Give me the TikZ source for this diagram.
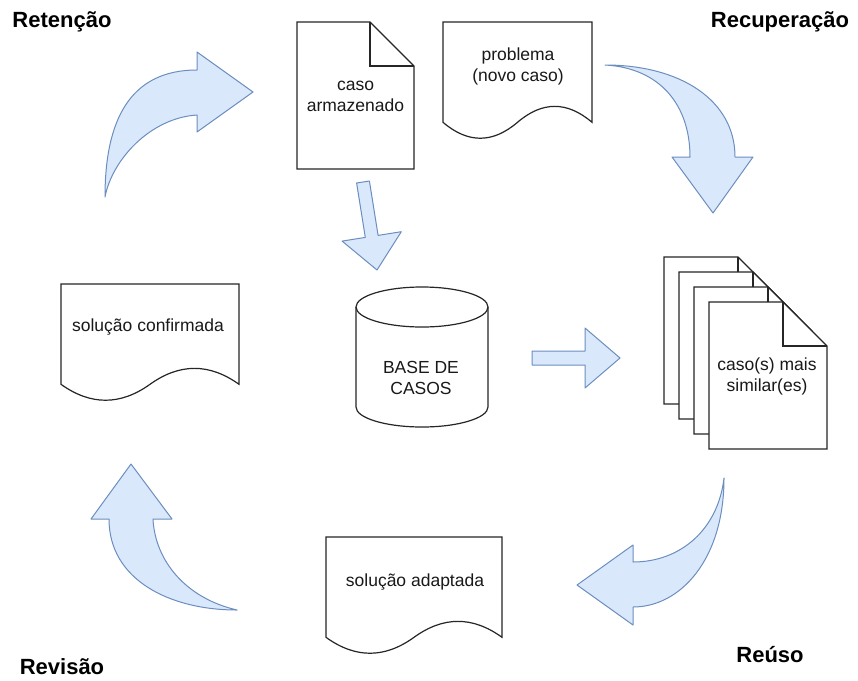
\documentclass[tikz,border=0pt]{standalone}
\usepackage{fontspec}
\setmainfont{Liberation Sans}
\definecolor{afill}{HTML}{DAE8FC}
\definecolor{aline}{HTML}{6C8EBF}
\tikzset{
  docline/.style={draw=black!85, line width=1.2pt, fill=white, line join=miter},
  blockarrow/.style={draw=aline, line width=1pt, fill=afill, line join=round},
  lbl/.style={font=\fontsize{17.5}{21}\selectfont, align=center, inner sep=0pt, text=black!90},
  ttl/.style={font=\fontsize{22}{26}\selectfont\bfseries, inner sep=0pt},
}
\newcommand{\wavedoc}[4]{%
  \draw[docline] (#1,#2) -- ({#1+#3},#2) -- ({#1+#3},{#2+0.85*#4})
   .. controls ({#1+0.8333*#3},{#2+0.67*#4}) and ({#1+0.6667*#3},{#2+0.67*#4}) .. ({#1+0.5*#3},{#2+0.85*#4})
   .. controls ({#1+0.3333*#3},{#2+1.03*#4}) and ({#1+0.1667*#3},{#2+1.03*#4}) .. (#1,{#2+0.85*#4}) -- cycle;}
\newcommand{\notedoc}[4]{%
  \draw[docline] (#1,#2) -- ({#1+#3-44},#2) -- ({#1+#3},{#2+44}) -- ({#1+#3},{#2+#4}) -- (#1,{#2+#4}) -- cycle;
  \draw[docline, fill=none] ({#1+#3-44},#2) -- ({#1+#3-44},{#2+44}) -- ({#1+#3},{#2+44});}
\begin{document}
\begin{tikzpicture}[x=1pt,y=-1pt]
\useasboundingbox (0,0) rectangle (858,680);
\fill[white] (0,0) rectangle (858,680);

% documents
\notedoc{297}{22}{117}{147}
\wavedoc{443}{22}{149}{118}
\wavedoc{61}{284}{178}{118}
\wavedoc{326}{537}{176}{118}
\notedoc{664}{257}{118}{147}
\notedoc{679}{272}{118}{147}
\notedoc{694}{287}{118}{147}
\notedoc{709}{302}{118}{147}

% cylinder
\draw[docline] (356,307) -- (356,407)
  .. controls (356,418) and (385.5,427) .. (422,427)
  .. controls (458.5,427) and (488,418) .. (488,407) -- (488,307)
  .. controls (488,296) and (458.5,287) .. (422,287)
  .. controls (385.5,287) and (356,296) .. (356,307) -- cycle;
\draw[docline, fill=none] (356,307) .. controls (356,318) and (385.5,327) .. (422,327)
  .. controls (458.5,327) and (488,318) .. (488,307);

% labels
\node[lbl] (armaz) at (355.5,96) {caso\\armazenado};
\node[lbl] (probl) at (518,66) {problema\\(novo caso)};
\node[lbl] (base) at (421,378) {BASE DE\\CASOS};
\node[lbl] (simil) at (767,376) {caso(s) mais\\similar(es)};
\node[lbl] (confirm) at (148,327) {solução confirmada};
\node[lbl] (adapt) at (415,582) {solução adaptada};

\node[ttl] (reten) at (62,22) {Retenção};
\node[ttl] (recup) at (780,22) {Recuperação};
\node[ttl] (revis) at (62,667) {Revisão};
\node[ttl] (reuso) at (770,655) {Reúso};

% straight block arrows
\draw[blockarrow] (356.6,183.0) -- (369.4,181.0) -- (378.1,235.4) -- (401.3,231.7) -- (377,270)
  -- (342.1,241.1) -- (365.3,237.4) -- cycle;
\draw[blockarrow] (532,351) -- (585,351) -- (585,328) -- (620,358) -- (585,388) -- (585,365) -- (532,365) -- cycle;

% curved block arrows
\draw[blockarrow] (105,197) .. controls (105,120) and (130,70) .. (197,70) -- (197,52) -- (253,92)
  -- (197,132) -- (197,115) .. controls (150,118) and (112,160) .. (105,197) -- cycle;
\draw[blockarrow] (605,65) .. controls (680,65) and (735,100) .. (735,157) -- (753,157) -- (713,213)
  -- (672,157) -- (690,157) .. controls (690,105) and (660,68) .. (605,65) -- cycle;
\draw[blockarrow] (724,478) .. controls (724,560) and (680,607) .. (633,607) -- (633,625) -- (577,585)
  -- (633,545) -- (633,562) .. controls (680,562) and (718,530) .. (724,478) -- cycle;
\draw[blockarrow] (237,610) .. controls (170,610) and (109,580) .. (109,519) -- (91,519) -- (131,464)
  -- (172,519) -- (153,519) .. controls (155,560) and (185,598) .. (237,610) -- cycle;
\end{tikzpicture}
\end{document}
